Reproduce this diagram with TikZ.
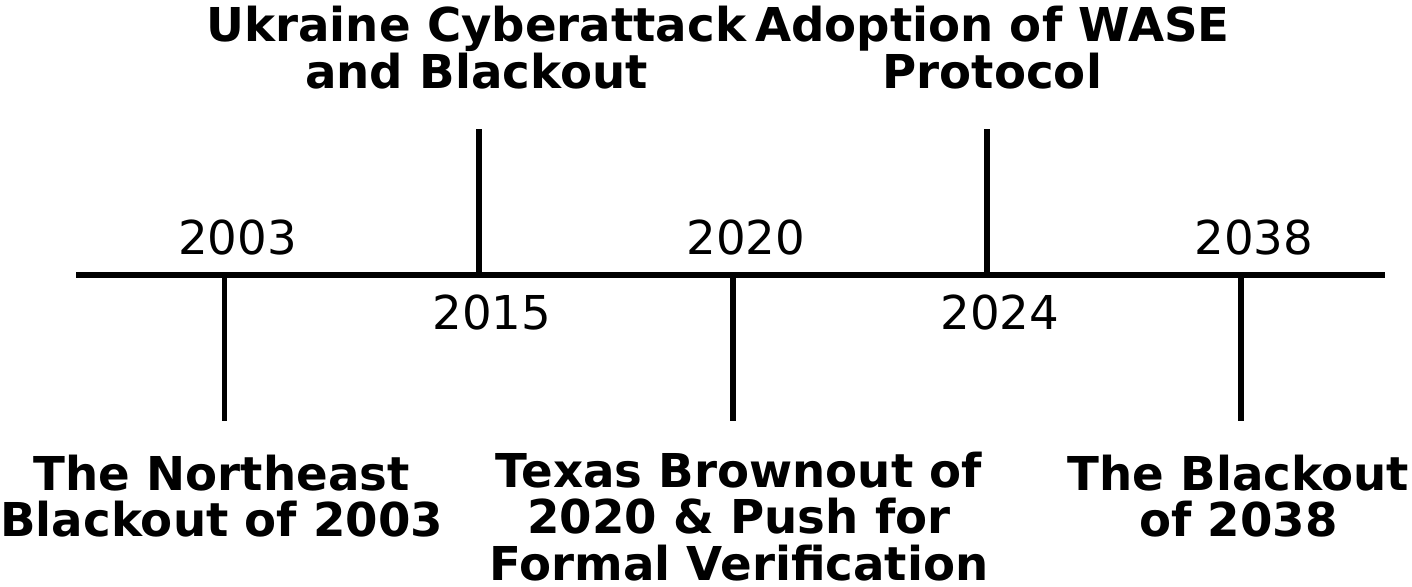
\documentclass[tikz,border=0pt]{standalone}
\usepackage{fontspec}
\setmainfont{DejaVu Sans}
\usetikzlibrary{positioning}

\begin{document}
\begin{tikzpicture}[x=0.75pt, y=-0.75pt, node distance=25pt,
  axis/.style={line width=4pt},
  year/.style={font=\fontsize{35}{40}\selectfont, inner sep=0pt, anchor=base},
  event/.style={font=\fontsize{35}{34.9}\selectfont\bfseries, align=center, inner sep=0pt}]
\useasboundingbox (0,0) rectangle (1412,586);
% the time axis
\coordinate (start) at (76,275);
\coordinate (stop) at (1385,275);
\coordinate (t_1) at (224.5,275);
\coordinate (t_2) at (479,275);
\coordinate (t_3) at (733,275);
\coordinate (t_4) at (987,275);
\coordinate (t_5) at (1241,275);
\coordinate (e_1) at (224.5,421);
\coordinate (e_2) at (479,129);
\coordinate (e_3) at (733,421);
\coordinate (e_4) at (987,129);
\coordinate (e_5) at (1241,421);
\draw [axis] (start) -- (stop);
\draw [axis] (t_1) -- (e_1);
\draw [axis] (t_2) -- (e_2);
\draw [axis] (t_3) -- (e_3);
\draw [axis] (t_4) -- (e_4);
\draw [axis] (t_5) -- (e_5);
% years
\node [year] (y_1) at (237.5,254) {2003};
\node [year] (y_2) at (492,329) {2015};
\node [year] (y_3) at (746,254) {2020};
\node [year] (y_4) at (1000,329) {2024};
\node [year] (y_5) at (1254,254) {2038};
% events
\node [event] (ev_1) [below = of e_1, xshift=-2pt] {The Northeast\\Blackout of 2003};
\node [event] (ev_2) [above = 30pt of e_2, xshift=-2pt] {Ukraine Cyberattack\\and Blackout};
\node [event] (ev_3) [below = 23pt of e_3, xshift=4.5pt] {Texas Brownout of\\2020 \& Push for\\Formal Verification};
\node [event] (ev_4) [above = 30pt of e_4, xshift=4pt] {Adoption of WASE\\Protocol};
\node [event] (ev_5) [below = of e_5, xshift=-2pt] {The Blackout\\of 2038};
\end{tikzpicture}
\end{document}
